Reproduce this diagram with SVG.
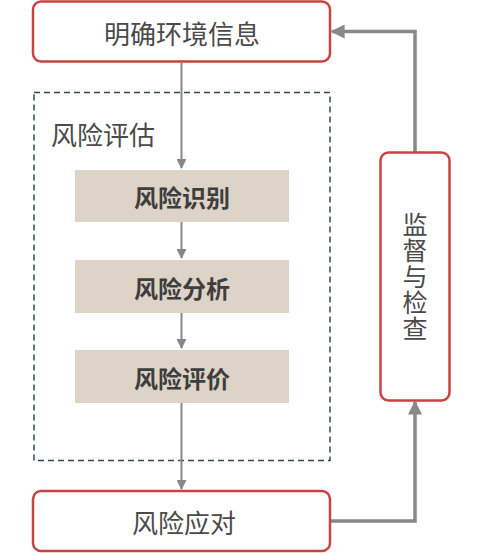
<svg xmlns="http://www.w3.org/2000/svg" width="500" height="553" viewBox="0 0 500 553">
<defs>
<style>
.red{fill:#fff;stroke:#c94343;stroke-width:2.5}
.sub{fill:#ddd3c7}
.t{font-family:"Noto Sans CJK SC","Noto Sans",sans-serif;fill:#4a4a4a;font-size:26px;text-anchor:middle;dominant-baseline:central}
.b{font-weight:bold;font-size:24px;fill:#3e3e3e}
.thin{stroke:#888;stroke-width:2;fill:none}
.thick{stroke:#888;stroke-width:3.5;fill:none}
</style>
<marker id="a" viewBox="0 0 10 10" refX="9" refY="5" markerWidth="5" markerHeight="5" orient="auto" markerUnits="strokeWidth"><path d="M0,0L10,5L0,10z" fill="#888"/></marker>
<marker id="a2" viewBox="0 0 10 10" refX="9" refY="5" markerWidth="4" markerHeight="4" orient="auto" markerUnits="strokeWidth"><path d="M0,0L10,5L0,10z" fill="#888"/></marker>
</defs>
<g id="assess">
<rect x="34" y="92.5" width="296" height="368" fill="none" stroke="#2e4a55" stroke-width="1.5" stroke-dasharray="6,4"/>
<text class="t" x="51" y="133" style="text-anchor:start">风险评估</text>
</g>
<g id="connectors">
<path class="thin" d="M181.5,63V168" marker-end="url(#a)"/>
<path class="thin" d="M181.5,222V258" marker-end="url(#a)"/>
<path class="thin" d="M181.5,313V348" marker-end="url(#a)"/>
<path class="thin" d="M181.5,403V489" marker-end="url(#a)"/>
<path class="thick" d="M330,521H415V402" marker-end="url(#a2)"/>
<path class="thick" d="M415,152V31.5H332" marker-end="url(#a2)"/>
</g>
<g id="n1"><rect class="red" x="33" y="1.5" width="297" height="60" rx="8"/><text class="t" x="182" y="32">明确环境信息</text></g>
<g id="n2"><rect class="sub" x="75" y="170" width="214" height="52"/><text class="t b" x="182" y="196">风险识别</text></g>
<g id="n3"><rect class="sub" x="75" y="260" width="214" height="53"/><text class="t b" x="182" y="287">风险分析</text></g>
<g id="n4"><rect class="sub" x="75" y="350" width="214" height="53"/><text class="t b" x="182" y="377">风险评价</text></g>
<g id="n5"><rect class="red" x="33" y="491" width="297" height="60" rx="8"/><text class="t" x="184" y="521">风险应对</text></g>
<g id="n6"><rect class="red" x="380.5" y="152.5" width="69" height="248" rx="8"/>
<text class="t" x="415" y="277" writing-mode="vertical-rl" style="font-size:25px;letter-spacing:1px">监督与检查</text></g>
</svg>
